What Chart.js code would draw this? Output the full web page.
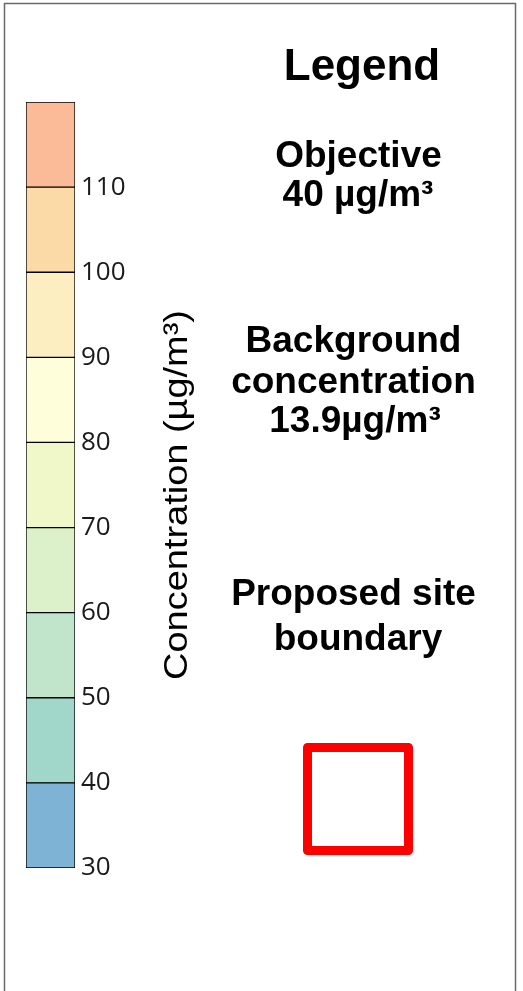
<!DOCTYPE html>
<html>
<head>
<meta charset="utf-8">
<script src="https://cdn.jsdelivr.net/npm/chart.js@4"></script>
<style>
html, body { margin: 0; padding: 0; background: #fff; }
#legendChart { display: block; }
</style>
</head>
<body>
<canvas id="legendChart" width="523" height="991"></canvas>
<script>
// colour bands of the concentration scale (ug/m3), bottom to top
var categories = [ 'Concentration' ];
var bandLows = [ 30, 40, 50, 60, 70, 80, 90, 100, 110 ];
var bandHighs = [ 40, 50, 60, 70, 80, 90, 100, 110, 120 ];
var bandColors = [ '#7fb3d5', '#a1d6cb', '#c0e5ca', '#dcf0c9', '#f0f8c9', '#fefedb', '#fdeec2', '#fcdaa8', '#fcbb98' ];
var tickValues = [ 30, 40, 50, 60, 70, 80, 90, 100, 110 ];
var axisTitle = 'Concentration (µg/m³)';

// legend text blocks on the right
var legendTitle = [ 'Legend' ];
var objectiveLines = [ 'Objective', '40 µg/m³' ];
var backgroundLines = [ 'Background', 'concentration', '13.9µg/m³' ];
var boundaryLines = [ 'Proposed site', 'boundary' ];

var datasets = [];
for( var i = 0; i < bandLows.length; i++ ) {
    datasets.push({
        label: bandLows[ i ] + '-' + bandHighs[ i ],
        data: [ [ bandLows[ i ], bandHighs[ i ] ] ],
        backgroundColor: bandColors[ i ],
        borderColor: '#000',
        borderWidth: 1,
        borderSkipped: false,
    });
}

// frame, rotated axis title, text blocks and site boundary box
var panelPlugin = {
    id: 'panel',
    afterDraw: function( chart ) {
        var ctx = chart.ctx;
        var y = chart.scales.y;
        ctx.save();

        // outer frame
        ctx.strokeStyle = '#6a6a6a';
        ctx.lineWidth = 1.5;
        ctx.beginPath();
        ctx.moveTo( 4.5, 995 );
        ctx.lineTo( 4.5, 3.5 );
        ctx.lineTo( 515.5, 3.5 );
        ctx.lineTo( 515.5, 995 );
        ctx.stroke();

        // axis title, reading bottom to top, stretched to the original length
        ctx.save();
        ctx.translate( 178, ( y.top + y.bottom ) / 2 + 10 );
        ctx.rotate( -Math.PI / 2 );
        ctx.fillStyle = '#000';
        ctx.font = '34px "Liberation Sans", Arial, sans-serif';
        ctx.textAlign = 'center';
        ctx.textBaseline = 'middle';
        var w = ctx.measureText( axisTitle ).width;
        ctx.scale( 370 / w, 1 );
        ctx.fillText( axisTitle, 0, 0 );
        ctx.restore();

        // text blocks
        ctx.fillStyle = '#000';
        ctx.textAlign = 'center';
        ctx.textBaseline = 'alphabetic';
        var drawLines = function( lines, cxs, baselines, size ) {
            ctx.font = 'bold ' + size + 'px "Liberation Sans", Arial, sans-serif';
            for( var k = 0; k < lines.length; k++ ) {
                ctx.fillText( lines[ k ], cxs[ k ], baselines[ k ] );
            }
        };
        drawLines( legendTitle, [ 362 ], [ 80 ], 44 );
        drawLines( objectiveLines, [ 358.5, 358 ], [ 167, 206 ], 37 );
        drawLines( backgroundLines, [ 353.5, 353.5, 355 ], [ 352, 393, 432 ], 37 );
        drawLines( boundaryLines, [ 353.5, 358 ], [ 605, 650 ], 37 );

        // proposed site boundary
        ctx.strokeStyle = '#ff0000';
        ctx.lineWidth = 9;
        ctx.lineJoin = 'round';
        ctx.strokeRect( 307.5, 747.5, 101, 103 );

        ctx.restore();
    }
};

var ctx = document.getElementById( 'legendChart' ).getContext( '2d' );
var chart = new Chart( ctx, {
    type: 'bar',
    data: {
        labels: categories,
        datasets: datasets,
    },
    options: {
        responsive: false,
        animation: false,
        layout: {
            padding: { left: 26, top: 102, bottom: 123, right: 383 },
        },
        datasets: {
            bar: { grouped: false, barPercentage: 1, categoryPercentage: 1 },
        },
        plugins: {
            legend: { display: false },
            tooltip: { enabled: false },
        },
        scales: {
            x: { display: false },
            y: {
                position: 'right',
                min: 30,
                max: 120,
                grid: { display: false, drawTicks: false },
                border: { display: false },
                afterFit: function( scale ) {
                    scale.width = 65;
                },
                afterBuildTicks: function( scale ) {
                    scale.ticks = tickValues.map( function( v ) { return { value: v }; } );
                },
                ticks: {
                    padding: 6,
                    color: '#1a1a1a',
                    font: { family: '"Open Sans", "Noto Sans", sans-serif', size: 26 },
                },
            },
        },
    },
    plugins: [ panelPlugin ],
});
</script>
</body>
</html>
